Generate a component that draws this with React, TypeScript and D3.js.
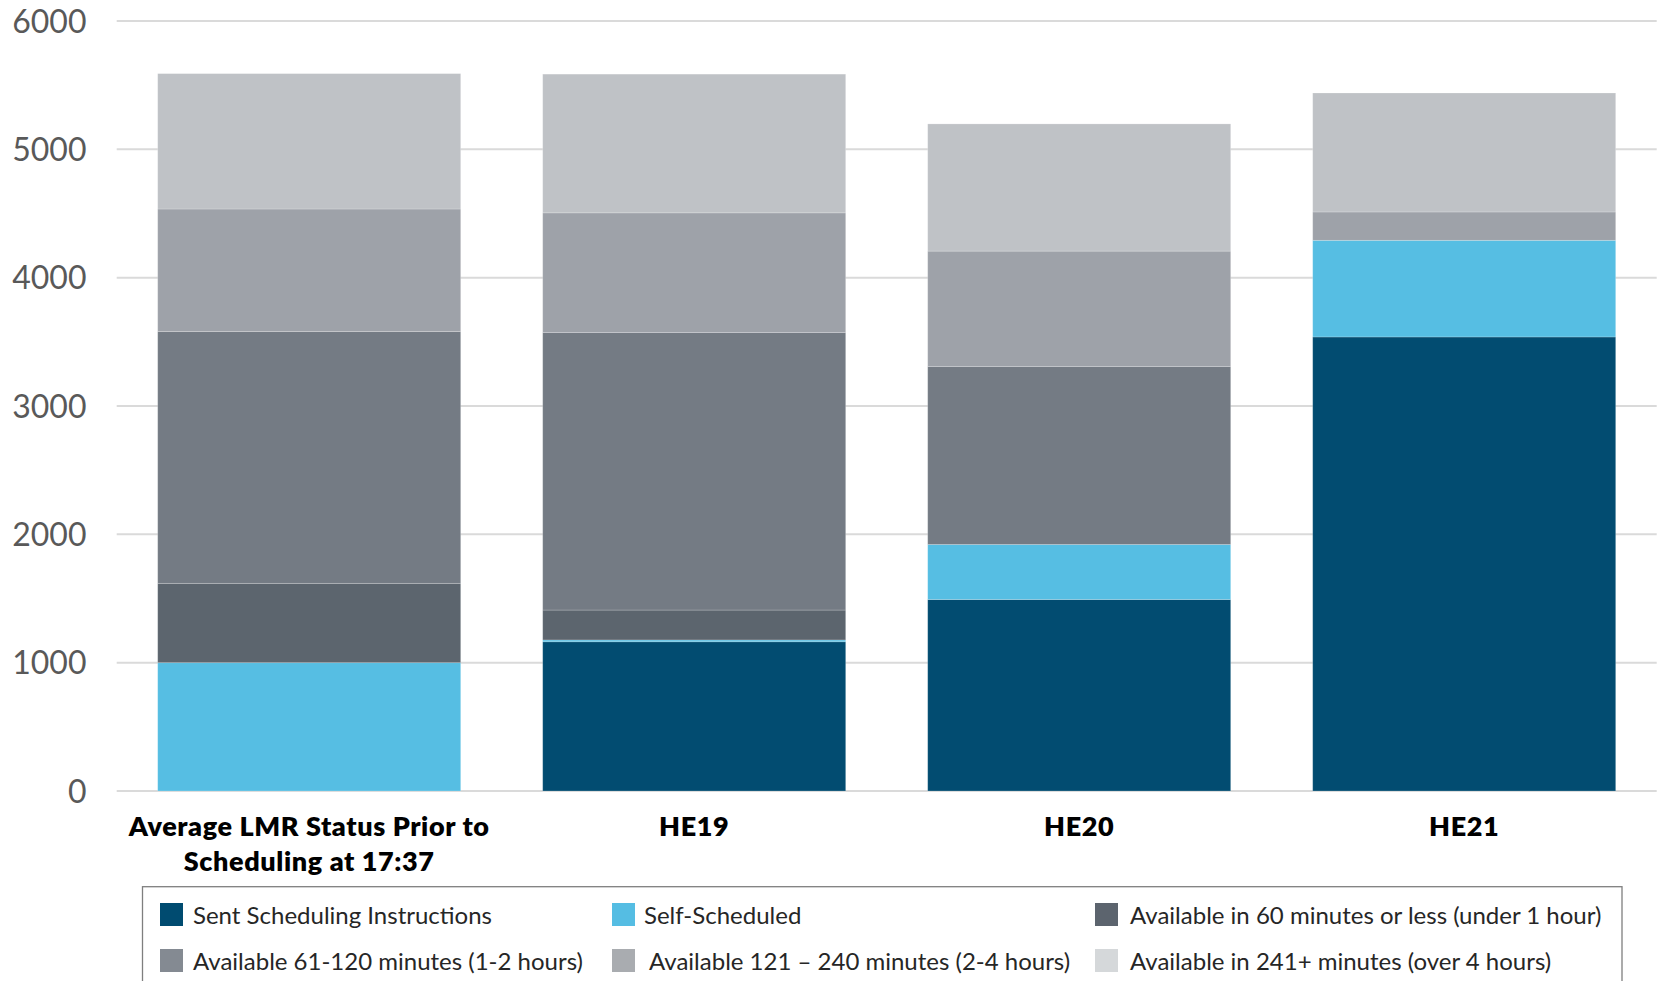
import React from "react";
import * as d3 from "d3";

const categories = ["Average LMR Status Prior to\nScheduling at 17:37", "HE19", "HE20", "HE21"];
const seriesNames = [
  "Sent Scheduling Instructions",
  "Self-Scheduled",
  "Available in 60 minutes or less (under 1 hour)",
  "Available 61-120 minutes (1-2 hours)",
  "Available 121 \u2013 240 minutes (2-4 hours)",
  "Available in 241+ minutes (over 4 hours)",
];
const sentScheduling = [0, 1163, 1492, 3538];
const selfScheduled = [1000, 14, 429, 753];
const avail60 = [618, 233, 0, 0];
const avail61to120 = [1962, 2162, 1387, 0];
const avail121to240 = [955, 933, 899, 221];
const avail241plus = [1055, 1081, 991, 927];
const yTicks = [0, 1000, 2000, 3000, 4000, 5000, 6000];

const barColors = ["#024c71", "#56bee3", "#5c656e", "#747b84", "#9ea2a9", "#bfc2c6"];
const swatchColors = ["#004b70", "#55bde3", "#5c646e", "#848a92", "#a9acb0", "#d5d8da"];

const seriesValues = [sentScheduling, selfScheduled, avail60, avail61to120, avail121to240, avail241plus];

export default function App() {
  const W = 1661, H = 981;
  const left = 116.7, right = 1656.7, top = 21, bottom = 791;
  const x = d3.scaleBand<number>().domain(d3.range(categories.length)).range([left, right]).paddingInner(0.213).paddingOuter(0.1065);
  const y = d3.scaleLinear().domain([0, 6000]).range([bottom, top]);

  const rows = categories.map((_, i) => {
    const r: Record<string, number> = {};
    seriesValues.forEach((s, k) => (r["s" + k] = s[i]));
    return r;
  });
  const stack = d3.stack<Record<string, number>>().keys(seriesValues.map((_, k) => "s" + k));
  const layers = stack(rows);

  const legendCols = [160, 612, 1095];
  const legendTextX = [193, 644, 1130];
  const legendRows = [924, 970];
  const legendItems = [
    { k: 0, c: 0, r: 0 },
    { k: 1, c: 1, r: 0 },
    { k: 2, c: 2, r: 0 },
    { k: 3, c: 0, r: 1 },
    { k: 4, c: 1, r: 1 },
    { k: 5, c: 2, r: 1 },
  ];

  return (
    <svg width={W} height={H} style={{ position: "absolute", left: 0, top: 0, background: "#fff" }} fontFamily="Lato, sans-serif">
      {yTicks.map((t) => (
        <g key={t}>
          <line x1={left} x2={right} y1={y(t)} y2={y(t)} stroke="#dadada" strokeWidth={2} />
          <text x={86.5} y={y(t) + 11.5} textAnchor="end" fontSize={32} fill="#595959">{t}</text>
        </g>
      ))}
      {layers.map((layer, k) => (
        <g key={k}>
          {layer.map((d, i) => {
            const h = y(d[0]) - y(d[1]);
            if (h <= 0) return null;
            return (
              <rect key={i} x={x(i)} width={x.bandwidth()} y={y(d[1])} height={h}
                fill={barColors[k]} stroke="rgba(255,255,255,0.25)" strokeWidth={0.8} />
            );
          })}
        </g>
      ))}
      {categories.map((c, i) => (
        <text key={i} x={(x(i) as number) + x.bandwidth() / 2} textAnchor="middle" fontSize={27} fontWeight={800} letterSpacing={0.6} fill="#000">
          {c.split("\n").map((line, j) => (
            <tspan key={j} x={(x(i) as number) + x.bandwidth() / 2} y={835.5 + j * 35}>{line}</tspan>
          ))}
        </text>
      ))}
      <rect x={142.5} y={886.7} width={1479.5} height={120} fill="none" stroke="#7f7f7f" strokeWidth={1.3} />
      {legendItems.map((it) => (
        <g key={it.k}>
          <rect x={legendCols[it.c]} y={legendRows[it.r] - 21} width={23} height={23} fill={swatchColors[it.k]} />
          <text x={legendTextX[it.c] + (it.k === 4 ? 5 : 0)} y={legendRows[it.r]} fontSize={24} fill="#262626">{seriesNames[it.k]}</text>
        </g>
      ))}
    </svg>
  );
}
